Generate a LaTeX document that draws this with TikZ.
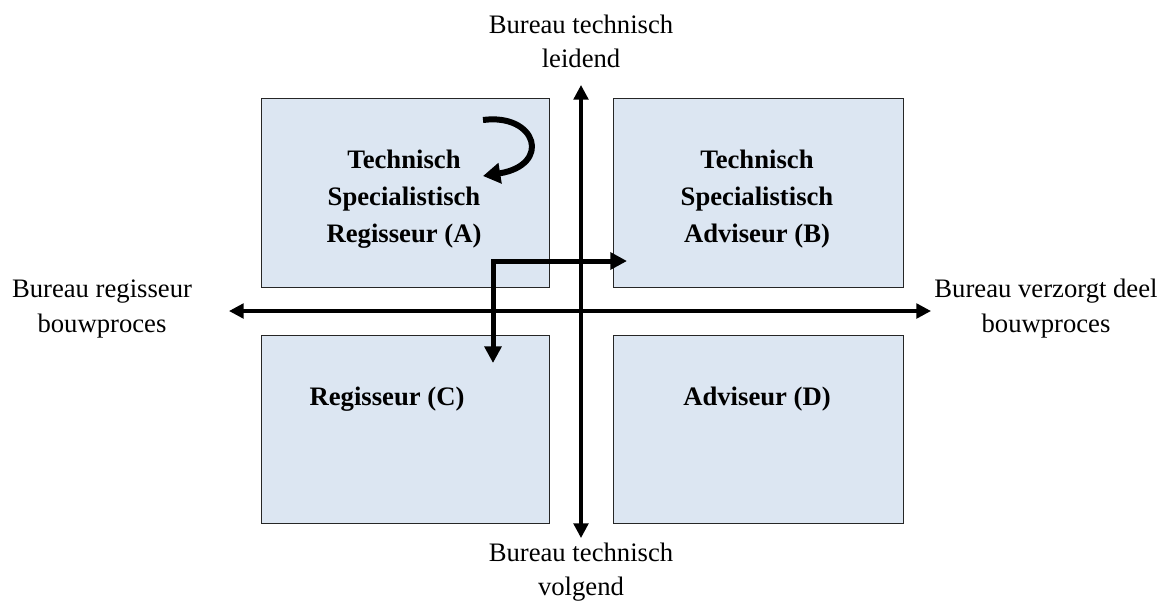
\documentclass[tikz,border=0pt]{standalone}
\usepackage{fontspec}
\setmainfont{Liberation Serif}
\usetikzlibrary{arrows.meta}
\definecolor{boxblue}{HTML}{DCE6F2}
\begin{document}
\begin{tikzpicture}[x=0.75pt,y=-0.75pt,
  quad/.style={rectangle, draw=black!85, line width=1pt, fill=boxblue,
    inner sep=0pt, anchor=north west},
  role/.style={font=\bfseries\fontsize{20}{27.75}\selectfont, align=center},
  axislabel/.style={font=\fontsize{20}{25.9}\selectfont, align=center},
  axis/.style={line width=2.5pt,
    {Triangle[length=11pt,width=11pt]}-{Triangle[length=11pt,width=11pt]}},
  move/.style={line width=3.75pt, line join=miter,
    {Triangle[length=12.5pt,width=12.5pt]}-{Triangle[length=12.5pt,width=12.5pt]}},
  turn/.style={line width=4.5pt, -{Triangle[length=13pt,width=15pt]}}]
\useasboundingbox (0,0) rectangle (1167,601);

% four quadrants
\node[quad, minimum width=216pt, minimum height=141.75pt] (A) at (261,98) {};
\node[quad, minimum width=217.5pt, minimum height=141.75pt] (B) at (613,98) {};
\node[quad, minimum width=216pt, minimum height=141pt] (C) at (261,335) {};
\node[quad, minimum width=217.5pt, minimum height=141pt] (D) at (613,335) {};

\node[role] (tA) at (404,198.7) {Technisch\\Specialistisch\\Regisseur (A)};
\node[role] (tB) at (757,198.7) {Technisch\\Specialistisch\\Adviseur (B)};
\node[role, anchor=base] (tC) at (387,405) {Regisseur (C)};
\node[role, anchor=base] (tD) at (757,405) {Adviseur (D)};

% axes
\coordinate (vtop) at (581,85);
\coordinate (vbot) at (581,538);
\coordinate (hleft) at (229,311);
\coordinate (hright) at (931,311);
\draw[axis] (vbot) -- (vtop);
\draw[axis] (hleft) -- (hright);

\node[axislabel] (lt) at (581,41.4) {Bureau technisch\\leidend};
\node[axislabel] (lb) at (581,572.3) {Bureau technisch\\volgend};
\node[axislabel] (ll) at (102,308.8) {Bureau regisseur\\bouwproces};
\node[axislabel] (lr) at (1046,308.8) {Bureau verzorgt deel\\bouwproces};

% moves from A towards B and C
\coordinate (toB) at (627,261);
\coordinate (toC) at (493,363);
\draw[move] (toB) -| (toC);

% A turning back onto itself
\coordinate (selfS) at (483,120);
\coordinate (selfE) at (483,176);
\draw[turn] (selfS) .. controls (537,113) and (552,165) .. (selfE);
\end{tikzpicture}
\end{document}
